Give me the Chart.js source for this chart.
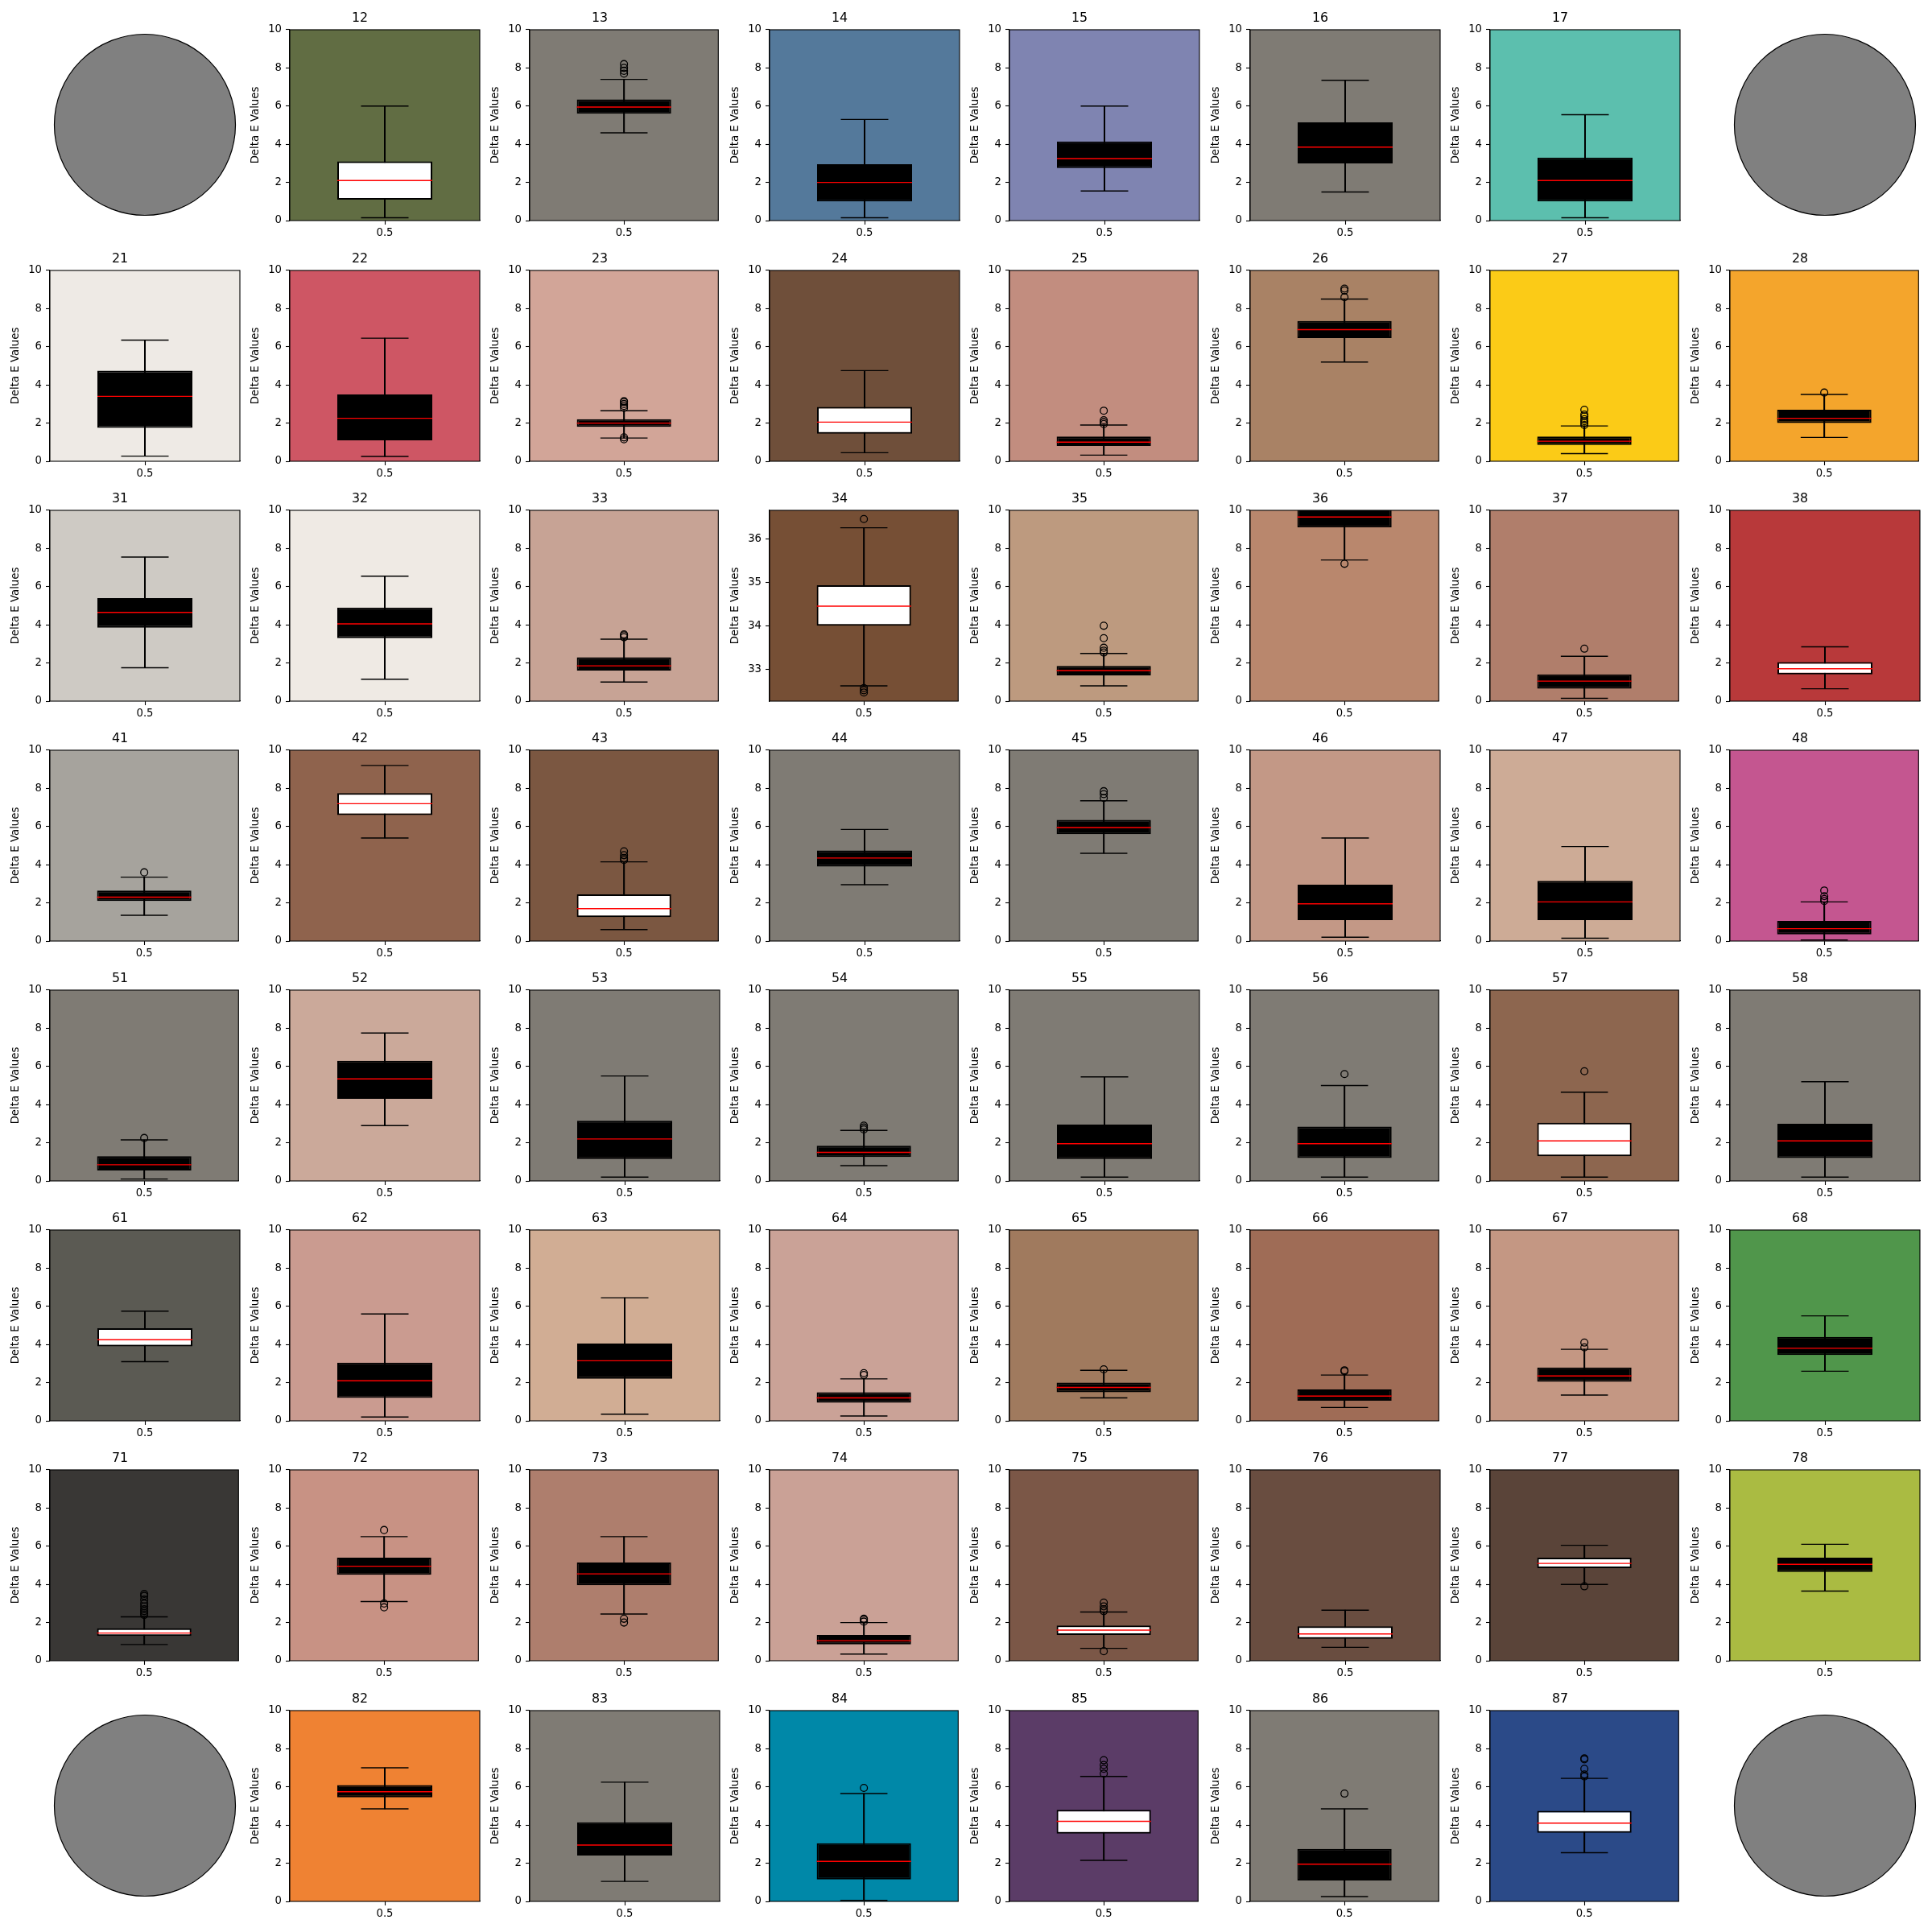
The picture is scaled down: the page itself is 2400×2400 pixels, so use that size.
<!DOCTYPE html>
<html><head><meta charset="utf-8">
<script src="https://cdn.jsdelivr.net/npm/chart.js@4.4.1/dist/chart.umd.min.js"></script>
<style>
html,body{margin:0;padding:0;background:#fff;}
#fig{position:relative;width:2400px;height:2400px;background:#fff;overflow:hidden;}
#fig canvas{position:absolute;}
</style></head><body><div id="fig"></div>
<script>
// ---------------- data ----------------
const panelLabels = ['12','13','14','15','16','17',
  '21','22','23','24','25','26','27','28',
  '31','32','33','34','35','36','37','38',
  '41','42','43','44','45','46','47','48',
  '51','52','53','54','55','56','57','58',
  '61','62','63','64','65','66','67','68',
  '71','72','73','74','75','76','77','78',
  '82','83','84','85','86','87'];
const pieLabels = ['11','18','81','88'];
const xLabels = ['0.5'];
const yTicksStandard = [0,2,4,6,8,10];
const yTicksPanel34 = [33,34,35,36];

const whiskerLow = [0.15,4.6,0.15,1.55,1.5,0.15,
  0.27,0.25,1.22,0.45,0.32,5.2,0.4,1.25,
  1.75,1.15,1.0,32.62,0.8,7.4,0.15,0.65,
  1.35,5.4,0.6,2.95,4.6,0.2,0.15,0.05,
  0.1,2.9,0.2,0.8,0.2,0.2,0.2,0.2,
  3.1,0.2,0.35,0.25,1.2,0.7,1.35,2.6,
  0.85,3.1,2.45,0.35,0.65,0.7,4.0,3.65,
  4.85,1.05,0.05,2.15,0.25,2.55];
const q1 = [1.1,5.6,1.0,2.75,3.0,1.0,
  1.75,1.1,1.8,1.45,0.8,6.45,0.85,2.0,
  3.85,3.3,1.6,34.0,1.35,9.1,0.65,1.4,
  2.1,6.6,1.25,3.9,5.6,1.1,1.1,0.35,
  0.55,4.3,1.15,1.25,1.15,1.2,1.3,1.2,
  3.9,1.2,2.2,0.95,1.5,1.05,2.05,3.45,
  1.3,4.5,3.95,0.85,1.35,1.15,4.85,4.65,
  5.45,2.4,1.15,3.55,1.1,3.6];
const medians = [2.1,5.95,2.0,3.25,3.85,2.1,
  3.4,2.25,2.0,2.05,1.0,6.9,1.05,2.25,
  4.65,4.05,1.85,34.45,1.6,9.65,1.05,1.7,
  2.3,7.2,1.7,4.35,5.95,1.95,2.05,0.65,
  0.85,5.35,2.2,1.5,1.95,1.95,2.1,2.1,
  4.25,2.1,3.15,1.2,1.75,1.3,2.35,3.8,
  1.45,4.95,4.55,1.05,1.6,1.4,5.1,5.05,
  5.75,2.95,2.1,4.2,1.95,4.1];
const q3 = [3.1,6.35,2.95,4.15,5.15,3.3,
  4.75,3.5,2.2,2.85,1.3,7.35,1.3,2.7,
  5.4,4.9,2.3,34.93,1.85,10.3,1.4,2.05,
  2.65,7.75,2.45,4.75,6.35,2.95,3.15,1.05,
  1.3,6.3,3.15,1.85,2.95,2.85,3.05,3.0,
  4.85,3.05,4.05,1.5,2.0,1.65,2.8,4.4,
  1.7,5.4,5.15,1.35,1.85,1.8,5.4,5.4,
  6.1,4.15,3.05,4.8,2.75,4.75];
const whiskerHigh = [6.0,7.4,5.3,6.0,7.35,5.55,
  6.35,6.45,2.65,4.75,1.9,8.5,1.85,3.5,
  7.55,6.55,3.25,36.25,2.5,11.5,2.35,2.85,
  3.35,9.2,4.15,5.85,7.35,5.4,4.95,2.05,
  2.15,7.75,5.5,2.65,5.45,5.0,4.65,5.2,
  5.75,5.6,6.45,2.2,2.65,2.4,3.75,5.5,
  2.3,6.5,6.5,2.0,2.55,2.65,6.05,6.1,
  7.0,6.25,5.65,6.55,4.85,6.45];
const outliers = [[],[7.7,7.85,8.0,8.2],[],[],[],[],
  [],[],[1.15,1.25,2.8,2.9,3.0,3.1,3.15],[],[1.95,2.05,2.15,2.65],[8.6,8.95,9.05],[1.9,2.0,2.1,2.2,2.35,2.45,2.7],[3.6],
  [],[],[3.35,3.45,3.5],[36.45,32.47,32.52,32.57],[2.55,2.65,2.8,3.3,3.95],[7.2],[2.75],[],
  [3.6],[],[4.25,4.35,4.5,4.7],[],[7.5,7.7,7.85],[],[],[2.1,2.2,2.35,2.65],
  [2.25],[],[],[2.7,2.8,2.9],[],[5.6],[5.75],[],
  [],[],[],[2.4,2.5],[2.7],[2.6,2.65],[3.85,4.1],[],
  [2.4,2.5,2.6,2.7,2.85,3.0,3.2,3.4,3.5],[6.85,3.0,2.8],[2.2,2.0],[2.05,2.15,2.2],[0.5,2.6,2.7,2.85,3.05],[],[3.9],[],
  [],[],[5.95],[6.7,6.95,7.15,7.4],[5.65],[6.55,6.65,6.95,7.45,7.5]];
const bgColors = ['#616d43','#7f7b74','#54799b','#7f84b1','#7f7b74','#5cbfae',
  '#eeeae5','#ce5664','#d2a598','#6f4f3a','#c28d7f','#a98265','#fbcb17','#f4a52c',
  '#cecac4','#efeae4','#c7a395','#764f35','#bd9a7f','#b9876d','#b07e6b','#b8393a',
  '#a6a39d','#8f634d','#7b5741','#7f7b74','#7f7b74','#c39886','#cdab96','#c45690',
  '#7f7b74','#cba99a','#7f7b74','#7f7b74','#7f7b74','#7f7b74','#8d664f','#7f7b74',
  '#5b5a53','#ca9b90','#d1ad94','#caa297','#a07a5e','#9f6c56','#c49783','#50964b',
  '#393735','#c89284','#ae7e6d','#caa196','#7b5747','#694d40','#5a4439','#aabb42',
  '#ef8233','#7f7b74','#0088a8','#5b3c67','#7f7b74','#2b4a88'];
const boxFills = ['#ffffff','#000000','#000000','#000000','#000000','#000000',
  '#000000','#000000','#000000','#ffffff','#000000','#000000','#000000','#000000',
  '#000000','#000000','#000000','#ffffff','#000000','#000000','#000000','#ffffff',
  '#000000','#ffffff','#ffffff','#000000','#000000','#000000','#000000','#000000',
  '#000000','#000000','#000000','#000000','#000000','#000000','#ffffff','#000000',
  '#ffffff','#000000','#000000','#000000','#000000','#000000','#000000','#000000',
  '#ffffff','#000000','#000000','#000000','#ffffff','#ffffff','#ffffff','#000000',
  '#000000','#000000','#000000','#ffffff','#000000','#ffffff'];
const pieValues = [1];

// ---------------- layout ----------------
const LEFT0 = 62, DX = 298.1, TOP0 = 37.3, DY = 298.2, AW = 236, AH = 237;
const ML = 62, MT = 38, MB = 34, MR = 4;
const FONT = "'DejaVu Sans', 'Liberation Sans', sans-serif";
const TICK_PX = 13.2, LABEL_PX = 13.3, TITLE_PX = 15.8;
Chart.defaults.font.family = FONT;
Chart.defaults.color = '#000';

const fig = document.getElementById('fig');

function makeCanvas(left, top, w, h) {
  const c = document.createElement('canvas');
  c.width = w; c.height = h;
  c.style.left = left + 'px'; c.style.top = top + 'px';
  c.style.width = w + 'px'; c.style.height = h + 'px';
  fig.appendChild(c);
  return c;
}

const boxPlugin = {
  id: 'boxExtras',
  beforeDatasetsDraw(chart) {
    const a = chart.chartArea, ctx = chart.ctx;
    ctx.save();
    ctx.fillStyle = chart.options.plugins.boxExtras.bg;
    ctx.fillRect(a.left, a.top, a.right - a.left, a.bottom - a.top);
    ctx.restore();
  },
  afterDatasetsDraw(chart) {
    const o = chart.options.plugins.boxExtras;
    const a = chart.chartArea, ctx = chart.ctx, ys = chart.scales.y;
    const el = chart.getDatasetMeta(1).data[0];
    const cx = el.x, bw = el.width;
    ctx.save();
    ctx.beginPath();
    ctx.rect(a.left, a.top, a.right - a.left, a.bottom - a.top);
    ctx.clip();
    ctx.lineWidth = 1.4;
    ctx.strokeStyle = '#000';
    [o.lo, o.hi].forEach(v => {
      const y = ys.getPixelForValue(v);
      ctx.beginPath(); ctx.moveTo(cx - bw / 4, y); ctx.lineTo(cx + bw / 4, y); ctx.stroke();
    });
    ctx.strokeStyle = '#ff0000';
    ctx.lineWidth = 1.4;
    const ym = ys.getPixelForValue(o.med);
    ctx.beginPath(); ctx.moveTo(cx - bw / 2, ym); ctx.lineTo(cx + bw / 2, ym); ctx.stroke();
    ctx.restore();
  },
  afterDraw(chart) {
    const a = chart.chartArea, ctx = chart.ctx;
    ctx.save();
    ctx.strokeStyle = '#000'; ctx.lineWidth = 1.1;
    ctx.strokeRect(a.left, a.top, a.right - a.left, a.bottom - a.top);
    ctx.restore();
  }
};

panelLabels.forEach((lab, i) => {
  const row = parseInt(lab[0]) - 1, col = parseInt(lab[1]) - 1;
  const ax = Math.round(LEFT0 + col * DX), ay = Math.round(TOP0 + row * DY);
  const cw = ML + AW + MR, ch = MT + AH + MB;
  const canvas = makeCanvas(ax - ML, ay - MT, cw, ch);
  const is34 = lab === '34';
  const yT = is34 ? yTicksPanel34 : yTicksStandard;
  const yMin = is34 ? 32.27 : 0, yMax = is34 ? 36.65 : 10;
  new Chart(canvas, {
    type: 'bar',
    data: {
      labels: xLabels,
      datasets: [
        { type: 'line', data: outliers[i].map(v => ({ x: xLabels[0], y: v })), showLine: false,
          pointRadius: 4.4, pointBorderWidth: 1.3, pointBorderColor: '#000',
          pointBackgroundColor: 'rgba(0,0,0,0)', order: 0 },
        { data: [[q1[i], q3[i]]], backgroundColor: boxFills[i], borderColor: '#000', borderWidth: 2,
          borderSkipped: false, barPercentage: 0.5, categoryPercentage: 1, grouped: false, order: 1 },
        { data: [[whiskerLow[i], whiskerHigh[i]]], backgroundColor: '#000', borderWidth: 0,
          barThickness: 1.4, grouped: false, order: 2 }
      ]
    },
    options: {
      responsive: false, animation: false, devicePixelRatio: 1,
      layout: { padding: { left: 0, right: MR, top: 0, bottom: 0 } },
      plugins: {
        legend: { display: false }, tooltip: { enabled: false },
        title: { display: true, text: lab, color: '#000',
          font: { size: TITLE_PX, weight: 'normal', family: FONT, lineHeight: 1.2 },
          padding: { top: 14.4, bottom: 4.6 } },
        boxExtras: { bg: bgColors[i], lo: whiskerLow[i], hi: whiskerHigh[i], med: medians[i] }
      },
      scales: {
        x: {
          type: 'category', offset: true,
          grid: { offset: false, drawOnChartArea: false, drawTicks: true, tickLength: 5, tickColor: '#000', tickWidth: 1.1 },
          border: { display: true, color: '#000', width: 1.1 },
          ticks: { color: '#000', font: { size: TICK_PX, family: FONT }, padding: 3, maxRotation: 0 },
          afterFit(s) { s.height = MB; }
        },
        y: {
          min: yMin, max: yMax,
          grid: { drawOnChartArea: false, drawTicks: true, tickLength: 5, tickColor: '#000', tickWidth: 1.1 },
          border: { display: true, color: '#000', width: 1.1 },
          ticks: { color: '#000', font: { size: TICK_PX, family: FONT }, padding: 5, includeBounds: false },
          afterBuildTicks(s) { s.ticks = yT.map(v => ({ value: v })); },
          title: { display: true, text: 'Delta E Values', color: '#000',
            font: { size: LABEL_PX, family: FONT, lineHeight: 1.2 }, padding: { top: 12, bottom: 0 } },
          afterFit(s) { s.width = ML; }
        }
      }
    },
    plugins: [boxPlugin]
  });
});

const circlePlugin = {
  id: 'circleOutline',
  afterDatasetsDraw(chart) {
    const el = chart.getDatasetMeta(0).data[0];
    const ctx = chart.ctx;
    ctx.save();
    ctx.strokeStyle = '#000'; ctx.lineWidth = 1.2;
    ctx.beginPath(); ctx.arc(el.x, el.y, el.outerRadius, 0, Math.PI * 2); ctx.stroke();
    ctx.restore();
  }
};

pieLabels.forEach(lab => {
  const row = parseInt(lab[0]) - 1, col = parseInt(lab[1]) - 1;
  const cx = LEFT0 + col * DX + AW / 2, cy = TOP0 + row * DY + AH / 2 - 0.5;
  const S = 240;
  const canvas = makeCanvas(Math.round(cx - S / 2), Math.round(cy - S / 2), S, S);
  new Chart(canvas, {
    type: 'pie',
    data: { labels: [lab], datasets: [{ data: pieValues, backgroundColor: '#808080', borderWidth: 0 }] },
    options: {
      responsive: false, animation: false, devicePixelRatio: 1,
      layout: { padding: 7.5 },
      plugins: { legend: { display: false }, tooltip: { enabled: false } }
    },
    plugins: [circlePlugin]
  });
});
</script>
</body></html>
